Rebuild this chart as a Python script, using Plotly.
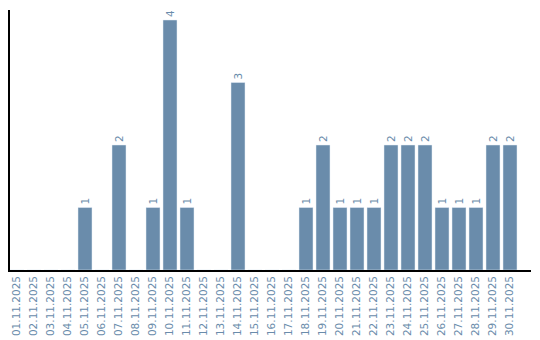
import plotly.graph_objects as go

dates = [f"{d:02d}.11.2025" for d in range(1, 31)]
values = [0, 0, 0, 0, 1, 0, 2, 0, 1, 4, 1, 0, 0, 3, 0, 0, 0, 1, 2, 1, 1, 1, 2, 2, 2, 1, 1, 1, 2, 2]
labels = [str(v) if v > 0 else "" for v in values]

color = "#6a8cab"
fam = "'DejaVu Sans', sans-serif"

fig = go.Figure(go.Bar(
    x=dates, y=values, text=labels, textposition="outside", textangle=-90,
    marker_color=color, cliponaxis=False,
    textfont=dict(family=fam, size=10.5, color=color),
))
fig.update_layout(
    width=540, height=340,
    margin=dict(l=10, r=9, t=10, b=70),
    plot_bgcolor="white", paper_bgcolor="white",
    bargap=3 / 17, showlegend=False,
    font=dict(family=fam, size=10.5, color=color),
)
fig.update_xaxes(type="category", range=[-0.412, 30.235], tickangle=-90, showline=True,
                 linecolor="black", linewidth=1.5, ticks="", showgrid=False, automargin=False,
                 tickfont=dict(family=fam, size=10.5, color=color))
fig.update_yaxes(range=[0, 4.16], showline=True, linecolor="black", linewidth=1.5,
                 showticklabels=False, ticks="", showgrid=False, zeroline=False, automargin=False)
fig.write_html("out.html")
